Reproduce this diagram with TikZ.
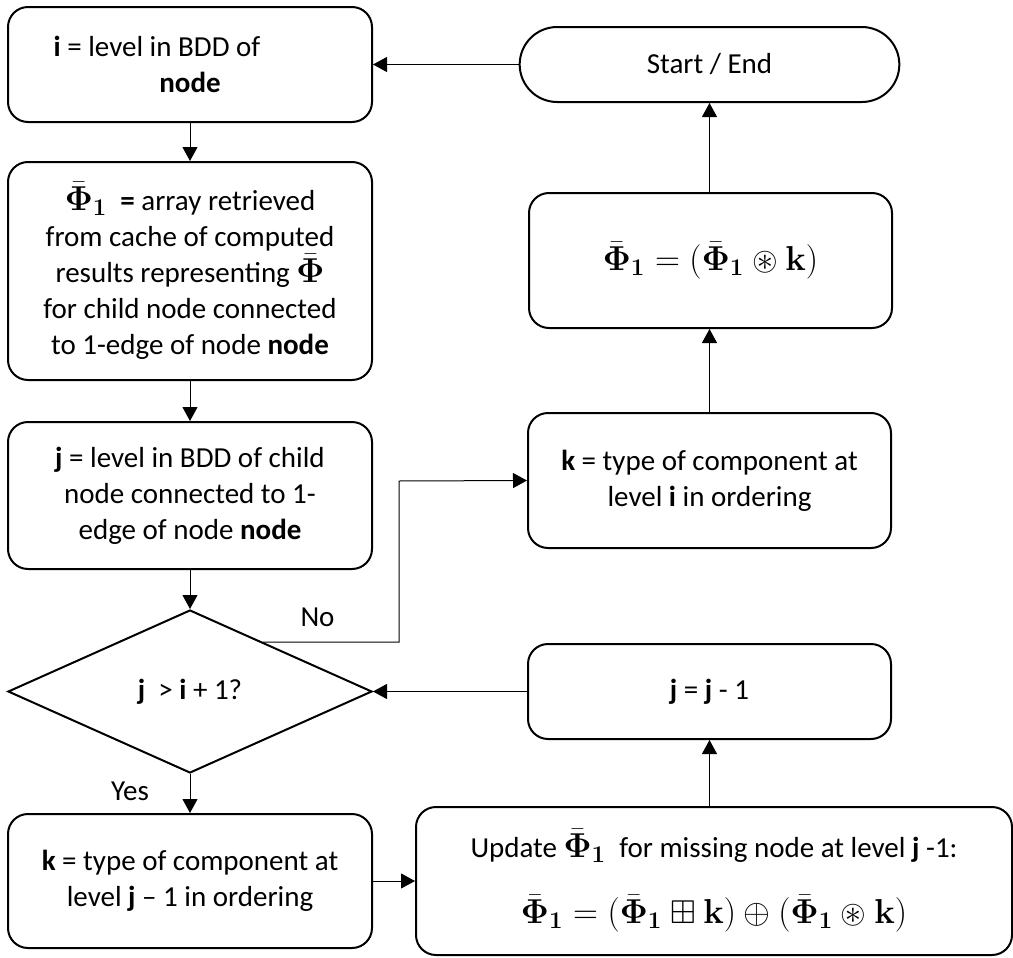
\documentclass[tikz,border=0pt]{standalone}
\usepackage{amsmath}
\usepackage{amssymb}
\usepackage[no-math]{fontspec}
\setmainfont{Carlito}
\usetikzlibrary{arrows.meta, shapes.geometric, shapes.misc, calc}
\newcommand{\phibar}{\bar{\boldsymbol{\Phi}}}
\newcommand{\mth}[1]{{\fontsize{16.5pt}{18pt}\selectfont$#1$}}
\tikzset{stepbox/.style={draw, line width=1pt, rounded corners=10pt, align=center, inner sep=0pt},
    conn/.style={line width=0.5pt, -{Triangle[length=7pt,width=7.5pt]}}}
\begin{document}
\begin{tikzpicture}[x=0.5pt, y=-0.5pt, font=\fontsize{14.5pt}{18pt}\selectfont]

                 \useasboundingbox (0,0) rectangle (1013,958);

                 % left column
                 \node[stepbox, minimum width=182pt, minimum height=57.5pt] (lvli) at (190,64.5)
                      {\textbf{i} = level in BDD of\hspace*{33pt}\\ \textbf{node}};
                 \node[stepbox, minimum width=182pt, minimum height=109pt] (cache) at (190,271)
                      {\mth{\phibar_{\mathbf{1}}}\ \ \textbf{=} array retrieved\\ from cache of computed\\
                       results representing \mth{\phibar}\\ for child node connected\\ to 1-edge of node \textbf{node}};
                 \node[stepbox, minimum width=182pt, minimum height=73.5pt] (lvlj) at (190,495.5)
                      {\textbf{j} = level in BDD of child\\ node connected to 1-\\ edge of node \textbf{node}};
                 \node[draw, diamond, line width=1pt, inner sep=0pt, minimum width=182pt, minimum height=81.5pt] (test) at (190,691.5)
                      {\textbf{j}\ \ > \textbf{i} + 1?};
                 \node[stepbox, minimum width=182pt, minimum height=67pt] (typej) at (190,881)
                      {\textbf{k} = type of component at\\ level \textbf{j} -- 1 in ordering};

                 % right column
                 \node[draw, rounded rectangle, line width=1pt, minimum width=196.5pt, minimum height=37.5pt] (start) at (709.5,64.5)
                      {Start / End};
                 \node[stepbox, minimum width=181.5pt, minimum height=67.5pt] (conv) at (710.5,260.5)
                      {\mth{\phibar_{\mathbf{1}} = (\phibar_{\mathbf{1}} \circledast \mathbf{k})}};
                 \node[stepbox, minimum width=181.5pt, minimum height=67.5pt] (typei) at (709.5,480.5)
                      {\textbf{k} = type of component at\\ level \textbf{i} in ordering};
                 \node[stepbox, minimum width=181.5pt, minimum height=47.5pt] (dec) at (709.5,691.5)
                      {\textbf{j} = \textbf{j} - 1};
                 \node[stepbox, minimum width=298pt, minimum height=74pt] (update) at (714,881)
                      {Update \mth{\phibar_{\mathbf{1}}}\ \ for missing node at level \textbf{j} -1:\\[15pt]
                       \mth{\phibar_{\mathbf{1}} = (\phibar_{\mathbf{1}} \boxplus \mathbf{k}) \oplus (\phibar_{\mathbf{1}} \circledast \mathbf{k})}};

                 % connectors
                 \draw[conn] (start.west) -- (lvli.east);
                 \draw[conn] (lvli.south) -- (cache.north);
                 \draw[conn] (cache.south) -- (lvlj.north);
                 \draw[conn] (lvlj.south) -- (test.north);
                 \draw[conn] (test.south) -- node[left=17pt, pos=0.45] {Yes} (typej.north);
                 \draw[conn] (typej.east |- update.west) -- (update.west);
                 \draw[conn] (update.north -| dec.south) -- (dec.south);
                 \draw[conn] (dec.west) -- (test.east);

                 \coordinate (nostart) at ($(test.north)!0.4!(test.east)$);
                 \coordinate (noturn) at (399,481);
                 \draw[conn] (nostart) -- node[above=4pt, pos=0.4] {No} (nostart -| noturn) -- (noturn) -- (typei.west);
                 \draw[conn] (typei.north) -- (conv.south -| typei.north);
                 \draw[conn] (conv.north -| start.south) -- (start.south);

\end{tikzpicture}
\end{document}
